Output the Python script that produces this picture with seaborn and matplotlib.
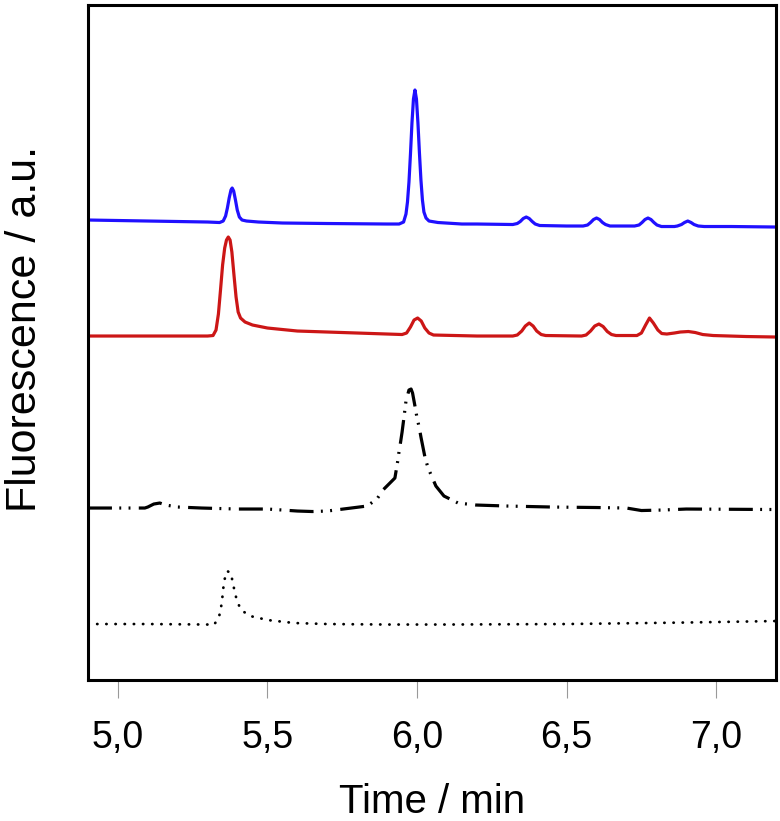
import pandas as pd
import matplotlib
matplotlib.use('Agg')
import matplotlib.pyplot as plt
import seaborn as sns

# Traces (time in min, signal in a.u.)
blue_t = [4.90, 5.10, 5.30, 5.340, 5.352, 5.360, 5.366, 5.372, 5.378, 5.382, 5.387, 5.393,
          5.399, 5.406, 5.415, 5.430, 5.470, 5.550, 5.700, 5.900, 5.940, 5.955, 5.963, 5.968,
          5.973, 5.978, 5.983, 5.988, 5.993, 5.998, 6.003, 6.008, 6.013, 6.018, 6.023, 6.030,
          6.040, 6.070, 6.150, 6.200, 6.320, 6.335, 6.345, 6.355, 6.365, 6.375, 6.385, 6.395,
          6.410, 6.500, 6.555, 6.570, 6.580, 6.590, 6.600, 6.610, 6.620, 6.630, 6.645, 6.720,
          6.727, 6.742, 6.752, 6.762, 6.772, 6.782, 6.792, 6.802, 6.817, 6.860, 6.870, 6.884,
          6.894, 6.905, 6.916, 6.926, 6.940, 6.960, 7.050, 7.200]
blue_y = [460, 459, 458, 457.5, 459, 464, 472, 482, 490, 492, 489, 480,
          470, 463, 460, 459, 458, 457, 456.5, 456, 456, 458, 466, 478,
          498, 526, 557, 581, 590, 581, 557, 527, 500, 480, 468, 462,
          459, 457.5, 456, 456, 455.5, 456.5, 458.5, 461.5, 463, 461.5, 458.5, 456,
          454.5, 454, 454, 455, 457.5, 460.5, 462, 460.5, 457.5, 455.5, 454, 454,
          454, 455, 457.5, 460.5, 462, 460.5, 457.5, 455, 453.5, 453.5, 454, 455.5,
          457.5, 459, 457.5, 455.5, 454, 453.5, 453.5, 453]

red_t = [4.90, 5.10, 5.30, 5.318, 5.328, 5.336, 5.343, 5.350, 5.357, 5.363, 5.369, 5.375,
         5.381, 5.388, 5.395, 5.402, 5.410, 5.425, 5.450, 5.500, 5.600, 5.700, 5.800, 5.900,
         5.950, 5.965, 5.978, 5.990, 6.002, 6.014, 6.026, 6.040, 6.055, 6.200, 6.320, 6.335,
         6.350, 6.362, 6.375, 6.388, 6.400, 6.415, 6.430, 6.550, 6.565, 6.580, 6.594, 6.608,
         6.622, 6.636, 6.650, 6.665, 6.735, 6.750, 6.764, 6.777, 6.790, 6.805, 6.818, 6.835,
         6.860, 6.880, 6.907, 6.930, 6.955, 6.990, 7.100, 7.200]
red_y = [344, 344, 344, 344.5, 350, 366, 390, 415, 432, 440, 443, 440,
         428, 405, 383, 368, 362, 358, 355, 352, 349, 348, 347, 346,
         345.5, 347, 353, 360, 362, 359, 352, 347, 345, 344, 344, 345,
         349, 354, 357, 354, 349, 345.5, 344.5, 344, 345, 349, 354, 356,
         353.5, 348.5, 345.5, 344.5, 344.5, 347, 355, 362, 357, 350, 346.5, 346,
         347, 348, 348.5, 347.5, 345.5, 344.5, 343.5, 343]

black_t = [4.90, 5.09, 5.10, 5.12, 5.14, 5.16, 5.20, 5.28, 5.40, 5.50, 5.60, 5.65,
           5.70, 5.78, 5.833, 5.866, 5.886, 5.926, 5.936, 5.940, 5.945, 5.950, 5.956, 5.963,
           5.973, 5.980, 5.985, 5.993, 6.000, 6.007, 6.013, 6.027, 6.037, 6.050, 6.063, 6.090,
           6.137, 6.167, 6.197, 6.300, 6.450, 6.600, 6.700, 6.750, 6.820, 6.900, 7.200]
black_y = [172, 172, 173, 176, 177, 175, 173, 172, 171, 171, 169, 168.5,
           169, 172, 174, 181, 190, 202, 220, 229, 238, 248, 262, 279,
           290, 291, 287, 274, 262, 253, 243, 222, 212, 203, 194, 184,
           177, 176, 175, 174, 173, 172.5, 172, 169.5, 170, 171, 170.5]

dot_t = [4.90, 5.10, 5.30, 5.321, 5.338, 5.345, 5.349, 5.352, 5.356, 5.365, 5.378, 5.384,
         5.391, 5.398, 5.412, 5.442, 5.472, 5.500, 5.530, 5.560, 5.590, 5.700, 5.900, 6.100,
         6.500, 6.900, 7.200]
dot_y = [56, 56, 55.5, 55, 63, 73, 82, 91, 100, 109, 107, 97,
         88, 79, 70, 64, 62, 60, 59, 58, 57, 56, 55.5, 55.5,
         56, 57.5, 59]

x_ticks = [5.0, 5.5, 6.0, 6.5, 7.0]
x_tick_labels = ['5,0', '5,5', '6,0', '6,5', '7,0']

sns.set_style('white')
plt.rcParams['font.family'] = ['Liberation Sans', 'DejaVu Sans']
plt.rcParams['text.color'] = 'black'
plt.rcParams['axes.labelcolor'] = 'black'
plt.rcParams['xtick.color'] = 'black'

fig = plt.figure(figsize=(7.8, 8.21), dpi=100)
ax = fig.add_axes([0.1128, 0.1717, 0.8821, 0.8222])

sns.lineplot(x=blue_t, y=blue_y, ax=ax, color='#2010ff', lw=2.3, sort=False, estimator=None)
sns.lineplot(x=red_t, y=red_y, ax=ax, color='#cc1616', lw=2.3, sort=False, estimator=None)
sns.lineplot(x=black_t, y=black_y, ax=ax, color='black', lw=2.3, sort=False, estimator=None,
             linestyle=(0, (7.5, 2.3, 0.6, 2.3, 0.6, 2.6)))
sns.lineplot(x=dot_t, y=dot_y, ax=ax, color='black', lw=2.0, sort=False, estimator=None,
             linestyle=(0, (0.1, 3.2)), dash_capstyle='round')

ax.set_xlim(4.9, 7.2)
ax.set_ylim(0, 675)
ax.set_xticks(x_ticks)
ax.set_xticklabels(x_tick_labels)
ax.set_yticks([])
ax.tick_params(axis='x', direction='out', length=13, width=0.8, color='#999999',
               labelcolor='black', labelsize=27, pad=16, bottom=True)
for s in ax.spines.values():
    s.set_color('black')
    s.set_linewidth(2.2)

ax.set_xlabel('Time / min', fontsize=29, labelpad=19, color='black')
ax.set_ylabel('Fluorescence / a.u.', fontsize=31, color='black')
ax.yaxis.set_label_coords(-0.062, 0.52)

plt.savefig('out.png', dpi=100)
